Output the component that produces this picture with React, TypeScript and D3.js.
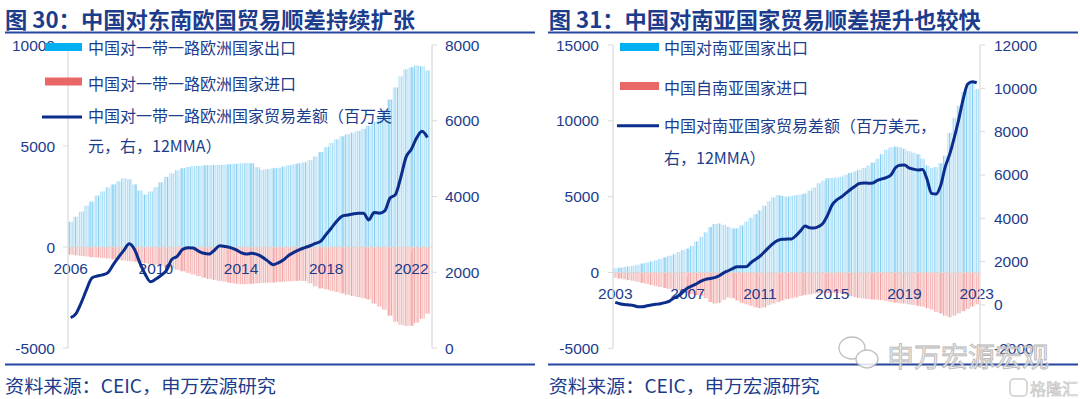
import React from 'react';
import * as d3 from 'd3';

// quarterly readings, millions USD
const seExports = [
  1250, 1500, 1750, 2050, 2250, 2550, 2750, 2950, 3100, 3250,
  3400, 3350, 3100, 2800, 2600, 2750, 2970, 3200, 3470, 3650,
  3800, 3900, 3960, 4000, 4020, 4040, 4050, 4060, 4060, 4080,
  4100, 4120, 4140, 4160, 4150, 3950, 3820, 3850, 3900, 3920,
  3980, 4050, 4100, 4150, 4200, 4300, 4480, 4700, 4950, 5150,
  5330, 5480, 5580, 5660, 5750, 5850, 6000, 6200, 6500, 6800,
  7300, 7900, 8450, 8800, 8900, 8980, 8950, 8750,
];
const seImports = [
  -380, -410, -440, -470, -500, -520, -540, -570, -610, -640,
  -670, -700, -730, -760, -800, -840, -880, -930, -990, -1060,
  -1130, -1200, -1280, -1360, -1440, -1520, -1580, -1630, -1680, -1720,
  -1780, -1810, -1840, -1840, -1820, -1800, -1780, -1770, -1760, -1740,
  -1720, -1700, -1680, -1670, -1680, -1800, -1950, -2050, -2100, -2170,
  -2230, -2300, -2360, -2420, -2480, -2540, -2600, -2800, -2950, -3100,
  -3400, -3700, -3850, -3900, -3900, -3750, -3550, -3300,
];
const seBalance = [
  800, 910, 1200, 1550, 1850, 1900, 1930, 1990, 2200, 2400,
  2580, 2750, 2600, 2250, 1950, 1750, 1820, 1920, 2050, 2340,
  2420, 2600, 2650, 2640, 2560, 2500, 2480, 2580, 2700, 2680,
  2650, 2600, 2520, 2480, 2500, 2470, 2400, 2300, 2200, 2250,
  2330, 2450, 2530, 2600, 2650, 2700, 2760, 2820, 3000, 3170,
  3350, 3480, 3510, 3540, 3560, 3560, 3380, 3580, 3560, 3620,
  3960, 4050, 4500, 5040, 5250, 5550, 5720, 5560,
];

const saExports = [
  280, 320, 360, 400, 450, 520, 590, 660, 730, 800,
  900, 1000, 1100, 1200, 1350, 1480, 1580, 1750, 2050, 2350,
  2650, 3000, 3200, 3230, 3130, 3020, 2900, 2920, 3100, 3350,
  3600, 3850, 4100, 4400, 4700, 4950, 5100, 5050, 5000, 5050,
  5100, 5150, 5200, 5400, 5600, 5880, 6050, 6210, 6230, 6260,
  6320, 6450, 6560, 6660, 6760, 6900, 7050, 7250, 7500, 7800,
  8100, 8250, 8300, 8250, 8150, 8000, 7900, 7800, 7500, 7050,
  6900, 6950, 7200, 7700, 9200, 10200, 11000, 11900, 12400, 12500,
  12100,
];
const saImports = [
  -350, -400, -450, -500, -550, -620, -690, -760, -830, -900,
  -960, -1020, -1080, -1130, -1200, -1280, -1340, -1420, -1500, -1550,
  -1700, -1950, -2050, -2000, -1800, -1650, -1700, -1850, -2000, -2100,
  -2200, -2300, -2350, -2300, -2150, -2050, -1950, -1850, -1750, -1700,
  -1650, -1550, -1480, -1450, -1400, -1370, -1350, -1350, -1340, -1350,
  -1380, -1450, -1550, -1620, -1680, -1720, -1750, -1780, -1800, -1820,
  -1880, -1950, -2000, -2040, -2050, -2100, -2150, -2200, -2250, -2350,
  -2450, -2600, -2700, -2850, -2950, -2850, -2700, -2550, -2400, -2250,
  -2100,
];
const saBalance = [
  120, 60, 20, 0, -20, -80, -80, -40, 0, 30,
  60, 110, 180, 320, 430, 600, 780, 880, 980, 1100,
  1180, 1220, 1260, 1350, 1480, 1580, 1680, 1760, 1760, 1770,
  1950, 2100, 2250, 2450, 2660, 2850, 2980, 3030, 3040, 3050,
  3200, 3420, 3650, 3560, 3550, 3620, 3780, 4150, 4620, 4850,
  4980, 5150, 5320, 5470, 5610, 5630, 5620, 5630, 5750, 5820,
  5880, 6000, 6330, 6450, 6460, 6330, 6270, 6230, 6250, 5800,
  5150, 5120, 5500, 6350, 6950, 7700, 8550, 9500, 10200, 10300,
  10260,
];

const seLeftTicks = [10000, 5000, 0, -5000];
const seRightTicks = [8000, 6000, 4000, 2000, 0];
const seYears = [2006, 2010, 2014, 2018, 2022];
const saLeftTicks = [15000, 10000, 5000, 0, -5000];
const saRightTicks = [12000, 10000, 8000, 6000, 4000, 2000, 0, -2000];
const saYears = [2003, 2007, 2011, 2015, 2019, 2023];

const seLegend = ['中国对一带一路欧洲国家出口', '中国对一带一路欧洲国家进口', '中国对一带一路欧洲国家贸易差额（百万美', '元，右，12MMA）'];
const saLegend = ['中国对南亚国家出口', '中国自南亚国家进口', '中国对南亚国家贸易差额（百万美元，', '右，12MMA）'];

const NAVY = '#1c3c8c';
const LINE = '#0b2d8c';
const GRID = '#d9d9d9';
const NUM_FONT = "'Liberation Sans', Arial, sans-serif";
const CJK_FONT = "'Noto Sans CJK SC', sans-serif";

// thin column look of the original (many monthly bars, antialiased)
const blueStripes: [number, number, string][] = [
  [0, 0.8, '#7fcdf2'], [1.8, 0.6, '#b5e2f8'], [3.5, 1.1, '#9fd9f5'], [6, 0.7, '#5cbfee'],
  [7.6, 1.5, '#c8eafa'], [10.2, 0.6, '#8ed3f3'], [12, 0.9, '#b0e0f7'], [14.5, 0.7, '#6fc7f0'],
  [16.4, 1.3, '#c2e7f9'], [18.8, 0.6, '#a2daf5'], [20.5, 0.9, '#58bdee'], [22.2, 0.5, '#b8e4f8'],
];
const redStripes: [number, number, string][] = [
  [0, 0.8, '#f29c9c'], [1.8, 0.6, '#f6bcbc'], [3.5, 1.1, '#f4afaf'], [6, 0.7, '#ee8585'],
  [7.6, 1.5, '#f8cccc'], [10.2, 0.6, '#f2a2a2'], [12, 0.9, '#f5b7b7'], [14.5, 0.7, '#ef8f8f'],
  [16.4, 1.3, '#f7c6c6'], [18.8, 0.6, '#f3abab'], [20.5, 0.9, '#ec7b7b'], [22.2, 0.5, '#f6c0c0'],
];

function quarters(start: number, n: number) {
  return d3.range(n).map(i => `${start + Math.floor(i / 4)}Q${(i % 4) + 1}`);
}

function Stripes({ id, bg, stripes }: { id: string; bg: string; stripes: [number, number, string][] }) {
  return (
    <pattern id={id} patternUnits="userSpaceOnUse" width={23} height={400}>
      <rect width={23} height={400} fill={bg} />
      {stripes.map(([x, w, c], i) => <rect key={i} x={x} y={0} width={w} height={400} fill={c} />)}
    </pattern>
  );
}

function Panel(p: any) {
  const cats = quarters(p.startYear, p.exports.length);
  const x = d3.scaleBand().domain(cats).range(p.band).padding(0);
  const yL = d3.scaleLinear().domain(p.leftDomain).range([p.bottom, p.top]);
  const yR = d3.scaleLinear().domain(p.rightDomain).range([p.bottom, p.top]);
  const cx = (i: number) => (x(cats[i]) as number) + x.bandwidth() / 2;
  const line = d3.line<number>().x((_, i) => cx(i)).y(d => yR(d)).curve(d3.curveMonotoneX);
  const zero = yL(0);

  return (
    <g>
      <text x={p.titleX} y={18} fontFamily={CJK_FONT} fontWeight={700} fontSize={22} fill={NAVY}
        dominantBaseline="central" textLength={p.titleW} lengthAdjust="spacingAndGlyphs">{p.title}</text>
      <line x1={p.ruleX[0]} x2={p.ruleX[1]} y1={32.5} y2={32.5} stroke="#2546a0" strokeWidth={2} />
      <line x1={p.ruleX[0]} x2={p.ruleX[1]} y1={364.5} y2={364.5} stroke="#2546a0" strokeWidth={2} />
      <text x={p.titleX} y={384.5} fontFamily={CJK_FONT} fontSize={18} fill={NAVY} dominantBaseline="central"
        textLength={271} lengthAdjust="spacingAndGlyphs">资料来源：CEIC，申万宏源研究</text>

      {/* bars */}
      {p.exports.map((v: number, i: number) => (
        <rect key={'e' + i} x={x(cats[i])} width={x.bandwidth() + 0.05} y={yL(v)} height={zero - yL(v)} fill="url(#blueStripes)" />
      ))}
      {p.imports.map((v: number, i: number) => (
        <rect key={'m' + i} x={x(cats[i])} width={x.bandwidth() + 0.05} y={zero} height={yL(v) - zero} fill="url(#redStripes)" />
      ))}
      <line x1={p.axisL} x2={p.axisR} y1={zero} y2={zero} stroke={GRID} strokeWidth={1.2} />
      {p.years.map((yr: number) => {
        const xx = cx(cats.indexOf(`${yr}Q1`));
        return (
          <g key={yr}>
            <line x1={xx} x2={xx} y1={zero} y2={zero + 4} stroke={GRID} />
            <text x={xx} y={zero + p.yearDy} textAnchor="middle" dominantBaseline="central"
              fontFamily={NUM_FONT} fontSize={15.5} fill={NAVY}>{yr}</text>
          </g>
        );
      })}

      {/* axes */}
      <line x1={p.axisL} x2={p.axisL} y1={p.top} y2={p.bottom} stroke={GRID} strokeWidth={1.2} />
      <line x1={p.axisR} x2={p.axisR} y1={p.top} y2={p.bottom} stroke={GRID} strokeWidth={1.2} />
      {p.leftTicks.map((t: number) => (
        <g key={'l' + t}>
          <line x1={p.axisL - 5} x2={p.axisL} y1={yL(t)} y2={yL(t)} stroke={GRID} />
          <text x={p.leftLabelX} y={yL(t)} textAnchor="end" dominantBaseline="central"
            fontFamily={NUM_FONT} fontSize={15.5} fill={NAVY}>{t}</text>
        </g>
      ))}
      {p.rightTicks.map((t: number) => (
        <g key={'r' + t}>
          <line x1={p.axisR} x2={p.axisR + 5} y1={yR(t)} y2={yR(t)} stroke={GRID} />
          <text x={p.rightLabelX} y={yR(t)} textAnchor="start" dominantBaseline="central"
            fontFamily={NUM_FONT} fontSize={15.5} fill={NAVY}>{t}</text>
        </g>
      ))}

      <path d={line(p.balance) as string} fill="none" stroke={LINE} strokeWidth={3} strokeLinejoin="round" />

      {/* legend */}
      <rect x={p.swatch[0]} width={p.swatch[1] - p.swatch[0]} y={p.swY[0] - 4} height={8} fill="#00b0f0" />
      <rect x={p.swatch[0]} width={p.swatch[1] - p.swatch[0]} y={p.swY[1] - 4} height={8} fill="#ea6767" />
      <line x1={p.swatch[0] - 3} x2={p.swatch[1]} y1={p.swY[2]} y2={p.swY[2]} stroke={LINE} strokeWidth={3} />
      {p.legend.map((s: string, i: number) => (
        <text key={s} x={p.legendX} y={p.rowY[i]} dominantBaseline="central" fontFamily={CJK_FONT}
          fontSize={16} fill={NAVY}>{s}</text>
      ))}
    </g>
  );
}

export default function App() {
  return (
    <svg width={1080} height={399} style={{ position: 'absolute', left: 0, top: 0, background: '#fff' }}>
      <defs>
        <Stripes id="blueStripes" bg="#ddf1fc" stripes={blueStripes} />
        <Stripes id="redStripes" bg="#fbe2e2" stripes={redStripes} />
      </defs>

      <Panel title="图 30：中国对东南欧国贸易顺差持续扩张" titleX={5} titleW={410} ruleX={[5, 535]}
        exports={seExports} imports={seImports} balance={seBalance} startYear={2006}
        band={[68, 430]} axisL={68} axisR={432} top={45} bottom={348}
        leftDomain={[-5000, 10000]} rightDomain={[0, 8000]}
        leftTicks={seLeftTicks} rightTicks={seRightTicks} years={seYears} yearDy={21.5}
        leftLabelX={55} rightLabelX={445}
        legend={seLegend} legendX={88} rowY={[47, 83, 115, 145]} swatch={[45, 82]} swY={[47, 81.5, 117]} />

      <Panel title="图 31：中国对南亚国家贸易顺差提升也较快" titleX={548.7} titleW={432} ruleX={[548, 1078]}
        exports={saExports} imports={saImports} balance={saBalance} startYear={2003}
        band={[613, 979]} axisL={613} axisR={980} top={45} bottom={348.3}
        leftDomain={[-5000, 15000]} rightDomain={[-2000, 12000]}
        leftTicks={saLeftTicks} rightTicks={saRightTicks} years={saYears} yearDy={21.5}
        leftLabelX={599} rightLabelX={994}
        legend={saLegend} legendX={664} rowY={[47, 87, 125, 157]} swatch={[620, 659]} swY={[47, 86, 125.7]} />

      {/* watermarks */}
      <g opacity={0.85}>
        <ellipse cx={852} cy={348} rx={13} ry={11} fill="#fff" stroke="#b5b5b5" strokeWidth={1.3} />
        <ellipse cx={867} cy={359} rx={11} ry={9} fill="#fff" stroke="#b5b5b5" strokeWidth={1.3} />
        <text x={887} y={355} dominantBaseline="central" fontFamily={CJK_FONT} fontSize={27}
          fill="#ececec" stroke="#a8a8a8" strokeWidth={0.8}>申万宏源宏观</text>
        <rect x={1010} y={379} width={17} height={17} rx={4} fill="none" stroke="#c4c4c4" strokeWidth={1.5} />
        <text x={1030} y={388} dominantBaseline="central" fontFamily={CJK_FONT} fontSize={16}
          fill="#e6e6e6" stroke="#b8b8b8" strokeWidth={0.6}>格隆汇</text>
      </g>
    </svg>
  );
}
